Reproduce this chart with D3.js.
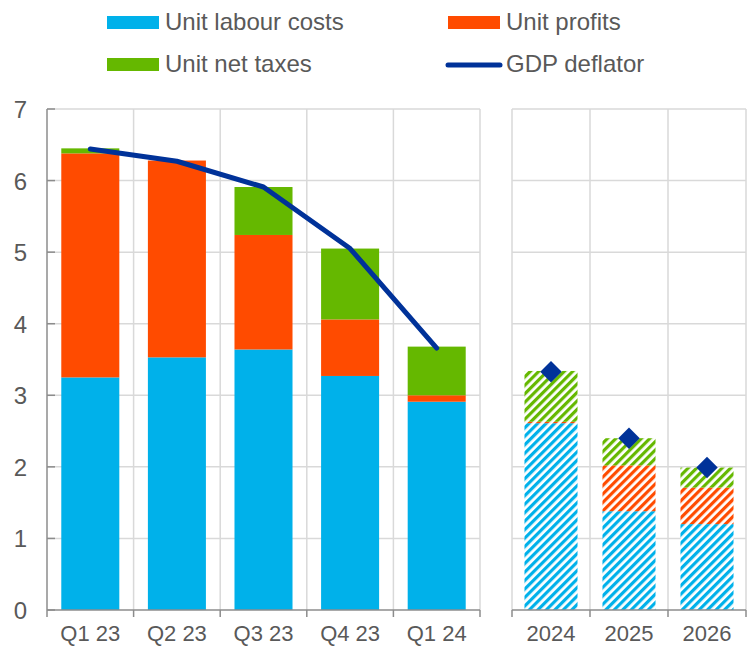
<!DOCTYPE html>
<html>
<head>
<meta charset="utf-8">
<script src="https://cdn.jsdelivr.net/npm/d3@7"></script>
<style>
  body { margin: 0; background: #fff; }
  svg text { font-family: "Liberation Sans", Arial, sans-serif; fill: #595959; }
</style>
</head>
<body>
<svg id="chart" width="750" height="648"></svg>
<script>
// quarterly outturns
const quarters = ["Q1 23", "Q2 23", "Q3 23", "Q4 23", "Q1 24"];
const qLabour = [3.25, 3.53, 3.64, 3.27, 2.91];
const qProfits = [3.13, 2.75, 1.60, 0.79, 0.09];
const qTaxes = [0.07, 0.00, 0.67, 0.99, 0.68];
const qDeflator = [6.44, 6.27, 5.91, 5.05, 3.66];

// annual projections
const years = ["2024", "2025", "2026"];
const yLabour = [2.61, 1.38, 1.20];
const yProfits = [0.02, 0.64, 0.51];
const yTaxes = [0.71, 0.38, 0.28];
const yDeflator = [3.33, 2.40, 1.99];

const yTicks = [0, 1, 2, 3, 4, 5, 6, 7];
const seriesNames = ["Unit labour costs", "Unit profits", "Unit net taxes", "GDP deflator"];
const colors = ["#00B1EA", "#FF4B00", "#65B800", "#003299"];

const svg = d3.select("#chart");
const gridColor = "#d9d9d9";
const axisColor = "#8c8c8c";

const scaleY = d3.scaleLinear().domain([0, 7]).range([610, 109]);
const xLeft = d3.scaleBand().domain(quarters).range([47, 480]).paddingInner(0.33).paddingOuter(0.165);
const xRight = d3.scaleBand().domain(years).range([512, 746]).paddingInner(0.32).paddingOuter(0.16);

// hatch patterns for projections
const defs = svg.append("defs");
colors.slice(0, 3).forEach((c, i) => {
    const p = defs.append("pattern")
        .attr("id", "hatch" + i)
        .attr("patternUnits", "userSpaceOnUse")
        .attr("width", 6).attr("height", 6)
        .attr("patternTransform", "rotate(45)");
    p.append("rect").attr("width", 6).attr("height", 6).attr("fill", "#fff");
    p.append("rect").attr("width", 3.2).attr("height", 6).attr("fill", c);
});

function drawGrid(scaleX, x0, x1) {
    const g = svg.append("g");
    g.selectAll(".h").data(yTicks.slice(1)).join("line")
        .attr("x1", x0).attr("x2", x1)
        .attr("y1", d => scaleY(d)).attr("y2", d => scaleY(d))
        .attr("stroke", gridColor).attr("stroke-width", 1.5);
    const bounds = scaleX.domain().map(d => scaleX(d) - scaleX.step() * scaleX.paddingInner() / 2);
    bounds.push(x1);
    g.selectAll(".v").data(bounds.slice(1)).join("line")
        .attr("x1", d => d).attr("x2", d => d)
        .attr("y1", scaleY(7)).attr("y2", scaleY(0))
        .attr("stroke", gridColor).attr("stroke-width", 1.5);
    return bounds;
}

const leftBounds = [47].concat(drawGrid(xLeft, 47, 480).slice(1));
const rightBounds = [512].concat(drawGrid(xRight, 512, 746).slice(1));
svg.append("line").attr("x1", 512).attr("x2", 512).attr("y1", scaleY(7)).attr("y2", scaleY(0))
    .attr("stroke", gridColor).attr("stroke-width", 1.5);

function stack(labour, profits, taxes) {
    return labour.map((l, i) => [
        [0, l],
        [l, l + profits[i]],
        [l + profits[i], l + profits[i] + taxes[i]]
    ]);
}

function drawBars(scaleX, cats, stacked, fillFn) {
    const g = svg.append("g");
    cats.forEach((c, i) => {
        stacked[i].forEach((seg, k) => {
            if (seg[1] - seg[0] <= 0) return;
            g.append("rect")
                .attr("x", scaleX(c))
                .attr("width", scaleX.bandwidth())
                .attr("y", scaleY(seg[1]))
                .attr("height", scaleY(seg[0]) - scaleY(seg[1]))
                .attr("fill", fillFn(k));
        });
    });
}

drawBars(xLeft, quarters, stack(qLabour, qProfits, qTaxes), k => colors[k]);
drawBars(xRight, years, stack(yLabour, yProfits, yTaxes), k => `url(#hatch${k})`);

// GDP deflator line
svg.append("path")
    .datum(qDeflator)
    .attr("fill", "none")
    .attr("stroke", colors[3])
    .attr("stroke-width", 5)
    .attr("stroke-linecap", "round")
    .attr("stroke-linejoin", "round")
    .attr("d", d3.line()
        .x((d, i) => xLeft(quarters[i]) + xLeft.bandwidth() / 2)
        .y(d => scaleY(d)));

// projection diamonds
svg.append("g").selectAll("path").data(yDeflator).join("path")
    .attr("d", d3.symbol().type(d3.symbolSquare).size(230))
    .attr("transform", (d, i) => `translate(${xRight(years[i]) + xRight.bandwidth() / 2},${scaleY(d)}) rotate(45)`)
    .attr("fill", colors[3]);

// axes
function drawXAxis(bounds, scaleX) {
    const g = svg.append("g");
    g.append("line").attr("x1", bounds[0]).attr("x2", bounds[bounds.length - 1])
        .attr("y1", 610).attr("y2", 610).attr("stroke", axisColor).attr("stroke-width", 1.5);
    g.selectAll(".t").data(bounds).join("line")
        .attr("x1", d => d).attr("x2", d => d)
        .attr("y1", 610).attr("y2", 617)
        .attr("stroke", axisColor).attr("stroke-width", 1.5);
    g.selectAll("text").data(scaleX.domain()).join("text")
        .attr("x", d => scaleX(d) + scaleX.bandwidth() / 2)
        .attr("y", 641)
        .attr("text-anchor", "middle")
        .attr("font-size", 22)
        .text(d => d);
}
drawXAxis(leftBounds, xLeft);
drawXAxis(rightBounds, xRight);

const yAxis = svg.append("g");
yAxis.append("line").attr("x1", 47).attr("x2", 47).attr("y1", scaleY(7)).attr("y2", 610)
    .attr("stroke", axisColor).attr("stroke-width", 1.5);
yAxis.selectAll(".t").data(yTicks).join("line")
    .attr("x1", 47).attr("x2", 55)
    .attr("y1", d => scaleY(d)).attr("y2", d => scaleY(d))
    .attr("stroke", axisColor).attr("stroke-width", 1.5);
yAxis.selectAll("text").data(yTicks).join("text")
    .attr("x", 27).attr("y", d => scaleY(d) + 9)
    .attr("text-anchor", "end")
    .attr("font-size", 24)
    .text(d => d);

// legend
const legendPos = [[107, 30], [448, 30], [107, 72], [448, 72]];
const legend = svg.append("g");
seriesNames.forEach((name, i) => {
    const [lx, ly] = legendPos[i];
    if (i < 3) {
        legend.append("rect").attr("x", lx).attr("y", ly - 14).attr("width", 52).attr("height", 13).attr("fill", colors[i]);
    } else {
        legend.append("line").attr("x1", lx).attr("x2", lx + 52).attr("y1", ly - 7).attr("y2", ly - 7)
            .attr("stroke", colors[i]).attr("stroke-width", 5).attr("stroke-linecap", "round");
    }
    legend.append("text").attr("x", lx + 58).attr("y", ly).attr("font-size", 24).text(name);
});
</script>
</body>
</html>
